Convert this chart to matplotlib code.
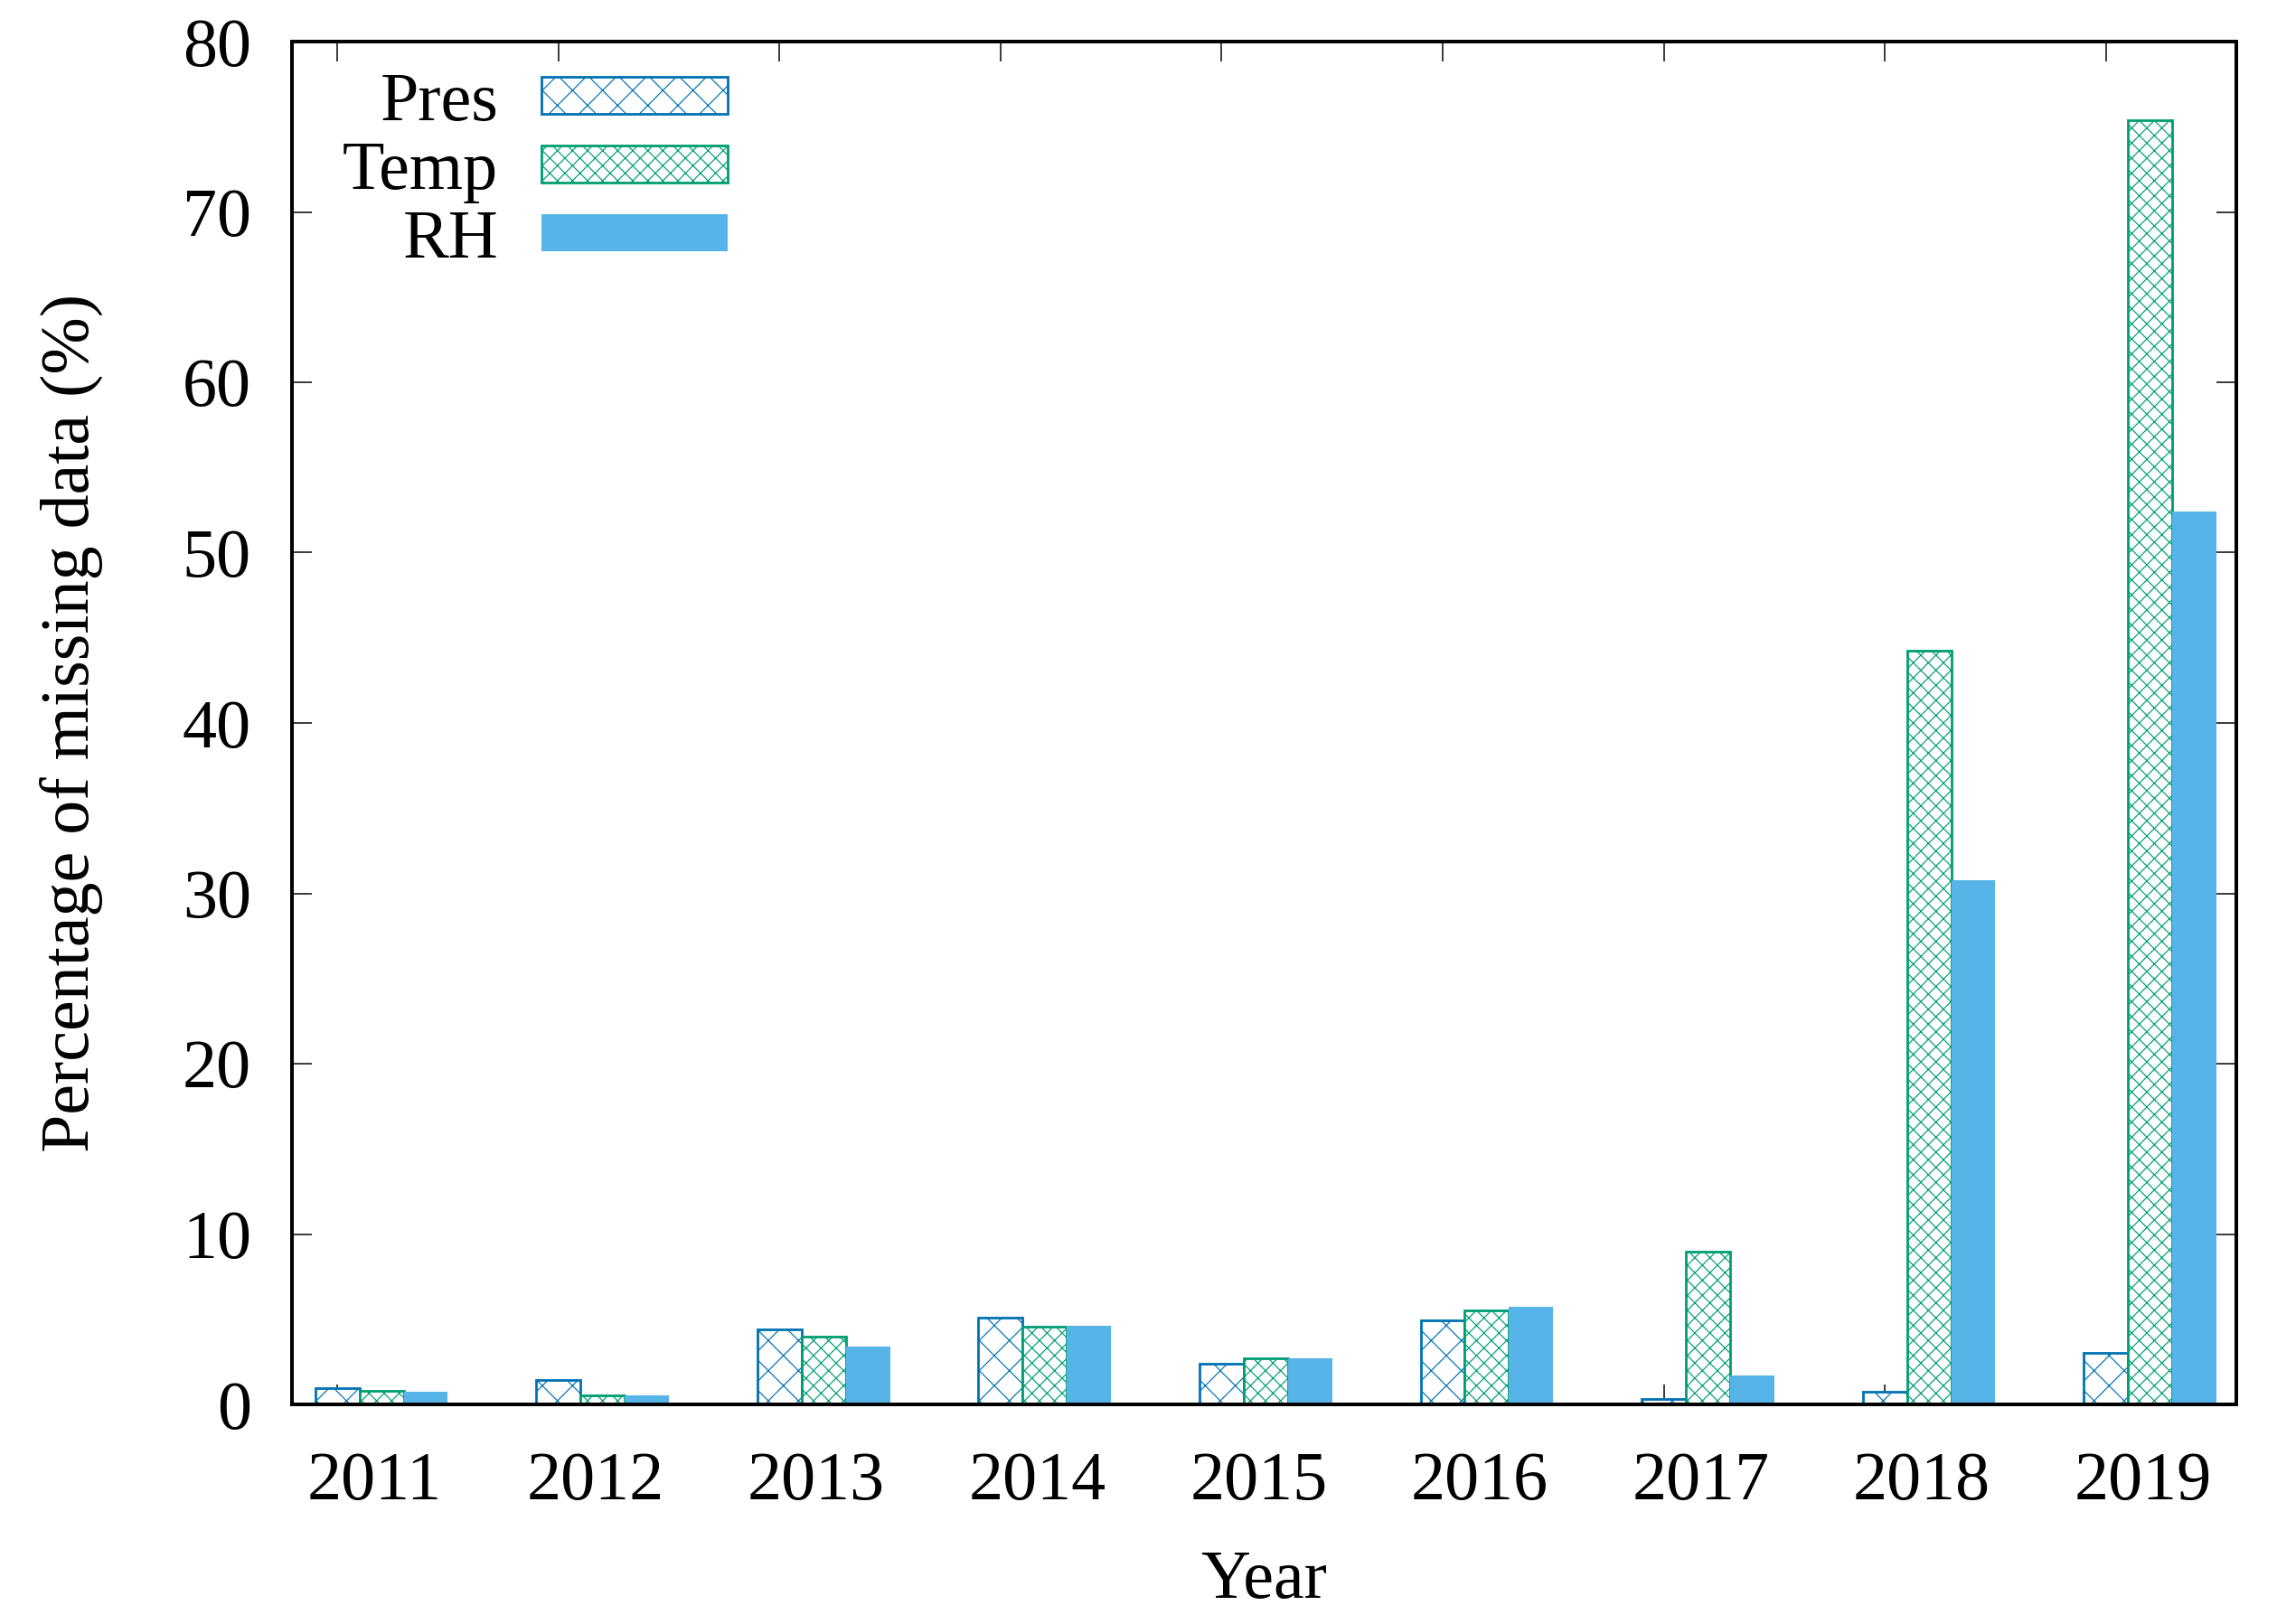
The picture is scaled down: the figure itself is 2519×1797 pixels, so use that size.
import numpy as np
import matplotlib
matplotlib.use('Agg')
import matplotlib.pyplot as plt

years = ['2011', '2012', '2013', '2014', '2015', '2016', '2017', '2018', '2019']
pres = [0.93, 1.41, 4.38, 5.07, 2.37, 4.91, 0.30, 0.72, 3.02]
temp = [0.78, 0.51, 3.96, 4.54, 2.68, 5.52, 8.97, 44.27, 75.41]
rh = [0.74, 0.55, 3.41, 4.63, 2.72, 5.75, 1.71, 30.78, 52.42]

DPI = 200
W, H = 2519, 1797


def px(v):
    # pixels of the output image -> points
    return v * 72 / DPI


plt.rcParams['font.family'] = ['Liberation Serif', 'DejaVu Serif']
plt.rcParams['font.size'] = px(76)
plt.rcParams['hatch.linewidth'] = px(1.2)

fig = plt.figure(figsize=(W / DPI, H / DPI), dpi=DPI)
ax = fig.add_axes([323 / W, 1 - 1554 / H, (2474 - 323) / W, (1554 - 46) / H])

x = np.arange(len(years))
w = 0.2
ax.bar(x - w, pres, w, facecolor='white', edgecolor='#0072B2', hatch='xx',
       linewidth=px(2.8), label='Pres', zorder=3)
ax.bar(x, temp, w, facecolor='white', edgecolor='#009E73', hatch='xxxx',
       linewidth=px(2.8), label='Temp', zorder=3)
ax.bar(x + w, rh, w, color='#56B4E9', linewidth=0, label='RH', zorder=3)

ax.set_xlim(-0.405, 8.39)
ax.set_ylim(0, 80)
ax.set_yticks(np.arange(0, 81, 10))

# tick marks sit on the first bar of each cluster, labels a little to the right
ax.set_xticks(x - w)
ax.set_xticklabels([])
ax.set_xticks(x - 0.033, minor=True)
ax.set_xticklabels(years, minor=True)
ax.tick_params(axis='x', which='minor', length=0, pad=px(52))
ax.tick_params(axis='both', which='major', direction='in', length=px(22),
               width=px(1.5), top=True, right=True)
ax.tick_params(axis='y', pad=px(45))

for s in ax.spines.values():
    s.set_linewidth(px(4))
    s.set_zorder(4)

ax.set_xlabel('Year', labelpad=px(40))
ax.set_ylabel('Percentage of missing data (%)', labelpad=px(87))

ax.legend(loc='upper right', bbox_to_anchor=(805 / W, 1 - 80 / H),
          bbox_transform=fig.transFigure, frameon=False, markerfirst=False,
          handlelength=2.71, handleheight=0.45, handletextpad=0.63,
          labelspacing=0.09, borderpad=0, borderaxespad=0)

fig.savefig('out.png', dpi=DPI)
